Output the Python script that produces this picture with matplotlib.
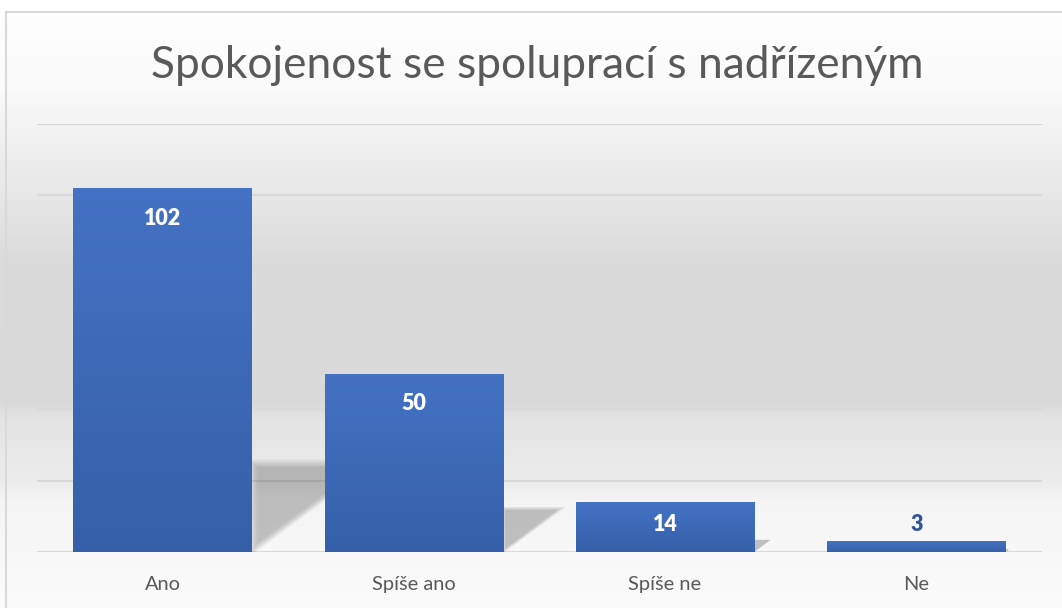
import numpy as np
import matplotlib
matplotlib.use('Agg')
from matplotlib import pyplot as plt
from matplotlib.colors import LinearSegmentedColormap
from matplotlib.patches import Rectangle, Polygon

categories = ['Ano', 'Spíše ano', 'Spíše ne', 'Ne']
values = [102, 50, 14, 3]
title = 'Spokojenost se spoluprací s nadřízeným'

plt.rcParams['font.family'] = ['Lato', 'DejaVu Sans']

W, H = 1062, 608
fig = plt.figure(figsize=(W / 100, H / 100), dpi=100)

# background: vertical grey gradient (light top & bottom, darker middle)
bg = fig.add_axes([0, 0, 1, 1], zorder=-5)
stop_y = [0, 90, 124, 190, 260, 400, 420, 480, 500, 552, 608]
stop_v = [255, 250, 243, 232, 219, 217, 228, 236, 244, 248, 251]
col = np.interp(np.arange(H), stop_y, stop_v) / 255.0
bg.imshow(np.repeat(col[:, None], 3, axis=1).reshape(H, 1, 3) * np.ones((1, 4, 1)),
          extent=[0, 1, 0, 1], aspect='auto', origin='upper')
bg.set_xlim(0, 1)
bg.set_ylim(0, 1)
bg.axis('off')
# top-left chart border
bg.add_patch(Rectangle((6 / W, -0.1), 1.2, 1 - 12 / H + 0.1, fill=False,
                       edgecolor='#d9d9d9', linewidth=1.5))

ax = fig.add_axes([36.8 / W, 1 - 552 / H, (1042 - 36.8) / W, (552 - 124) / H])
ax.patch.set_alpha(0)
x = np.arange(len(categories))
width = 0.71
bars = ax.bar(x, values, width=width, color='none', zorder=3)

# bar gradient fill + soft perspective shadow
bar_cmap = LinearSegmentedColormap.from_list('bar', ['#3560a9', '#4472c4'])
grad = np.linspace(0, 1, 256).reshape(-1, 1)
for b in bars:
    x0, w, h = b.get_x(), b.get_width(), b.get_height()
    im = ax.imshow(grad, cmap=bar_cmap, origin='lower', aspect='auto',
                   extent=[x0, x0 + w, 0, h], zorder=3)
    im.set_clip_path(b)
    xr, top, run = x0 + w, 0.245 * h, 0.0047 * h
    tri = np.array([(xr, 0), (xr, top), (xr + run, top)])
    c = tri.mean(axis=0)
    for s in np.linspace(1.12, 0.85, 10):
        ax.add_patch(Polygon(c + (tri - c) * s, closed=True, facecolor='#000000',
                             alpha=0.022, edgecolor='none', zorder=2))

ax.set_xlim(-0.5, len(categories) - 0.5)
ax.set_ylim(0, 120)
ax.set_yticks(range(0, 121, 20))
ax.yaxis.grid(True, color='#d9d9d9', linewidth=1.5, zorder=1)
ax.tick_params(axis='y', left=False, labelleft=False)
ax.tick_params(axis='x', bottom=False, colors='#595959', labelsize=14.4, pad=14)
ax.set_xticks(x)
ax.set_xticklabels(categories)
for s in ax.spines.values():
    s.set_visible(False)

for xi, v in zip(x, values):
    if v > 10:
        ax.text(xi, max(v - 8.4, v * 0.55), str(v), ha='center', va='center',
                color='white', fontsize=15.5, fontweight='heavy', zorder=4)
    else:
        ax.text(xi, v + 4.8, str(v), ha='center', va='center', color='#2f5597',
                fontsize=15.5, fontweight='heavy', zorder=4)

fig.text(537 / W, 1 - 66 / H, title, ha='center', va='center',
         fontsize=31.9, color='#595959')

fig.savefig('out.png', dpi=100)
